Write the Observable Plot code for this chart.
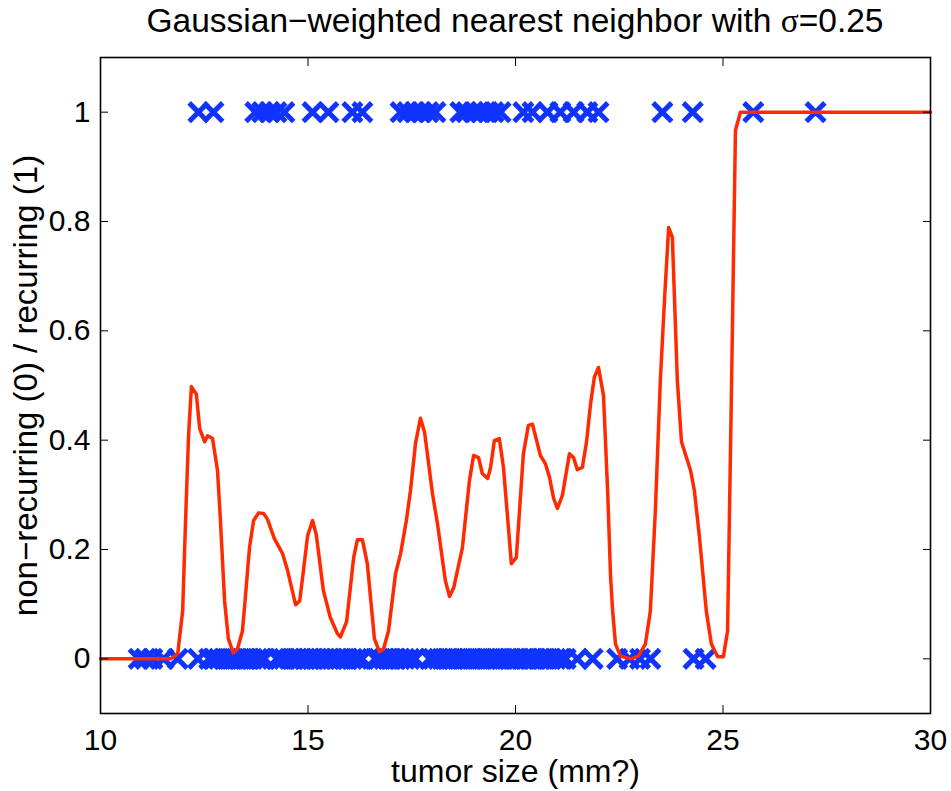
<!DOCTYPE html>
<html>
<head>
<meta charset="utf-8">
<script src="https://cdn.jsdelivr.net/npm/d3@7"></script>
<script src="https://cdn.jsdelivr.net/npm/@observablehq/plot@0.6"></script>
<style>
  body { margin: 0; background: #fff; }
  #wrap { position: relative; width: 951px; height: 791px; font-family: "Liberation Sans", Arial, sans-serif; }
  #title { position: absolute; left: 100px; width: 830px; top: 4px; text-align: center; font-size: 33.5px; line-height: 33px; color: #000; white-space: nowrap; }
  #title .sig { font-family: "Liberation Serif", "DejaVu Serif", serif; }
  #chart { position: absolute; left: 0; top: 0; }
</style>
</head>
<body>
<div id="wrap">
  <div id="chart"></div>
  <div id="title">Gaussian−weighted nearest neighbor with <span class="sig">σ</span>=0.25</div>
</div>
<script>
// Recurring cases (y = 1): tumor sizes
const recurX = [12.36, 12.72, 13.73, 13.90, 14.07, 14.24, 14.43, 15.11, 15.49, 16.07, 16.31,
  17.23, 17.40, 17.57, 17.73, 17.90, 18.07, 18.67, 18.82, 18.99, 19.16, 19.33, 19.47, 19.64,
  20.19, 20.41, 20.77, 21.08, 21.40, 21.73, 22.00, 23.54, 24.27, 25.73, 27.23];

// Non-recurring cases (y = 0): tumor sizes
const nonrecurX = [10.92, 11.08, 11.25, 11.52, 11.86,
  12.35, 12.62, 12.74, 12.85, 12.97, 13.05, 13.16, 13.27, 13.36, 13.48, 13.57, 13.66, 13.78, 13.87, 13.95,
  14.25, 14.33, 14.42, 14.55, 14.63, 14.74, 14.82, 14.93, 15.02, 15.11, 15.22, 15.30, 15.41, 15.50, 15.58,
  15.69, 15.77, 15.88, 15.96, 16.07, 16.18, 16.30, 16.62, 16.71, 16.83, 16.92, 17.01, 17.12, 17.22, 17.33,
  17.45, 17.58, 17.93, 18.02, 18.14, 18.23, 18.35, 18.44, 18.52, 18.64, 18.75, 18.86, 18.95, 19.06, 19.17,
  19.28, 19.36, 19.48, 19.57, 19.66, 19.78, 19.87, 19.98, 20.07, 20.18, 20.27, 20.38, 20.46, 20.58, 20.67,
  20.78, 20.86, 20.97, 21.08, 21.21, 21.49, 21.86, 22.45, 22.75, 23.00, 23.25, 24.29, 24.58];

// Gaussian-weighted nearest neighbor estimate
const curveX = [10.00, 11.69, 11.86, 11.98, 12.05, 12.12, 12.19, 12.31, 12.39, 12.51, 12.58, 12.70, 12.82,
  12.89, 12.99, 13.08, 13.20, 13.30, 13.42, 13.49, 13.59, 13.69, 13.81, 13.93, 14.02, 14.19, 14.39, 14.51,
  14.70, 14.80, 14.89, 14.99, 15.11, 15.20, 15.37, 15.54, 15.71, 15.78, 15.93, 16.10, 16.19, 16.31, 16.43,
  16.60, 16.72, 16.82, 16.94, 17.11, 17.23, 17.37, 17.47, 17.59, 17.71, 17.81, 18.00, 18.12, 18.31, 18.41,
  18.51, 18.72, 18.89, 18.99, 19.11, 19.20, 19.33, 19.40, 19.49, 19.61, 19.71, 19.81, 19.90, 20.02, 20.19,
  20.31, 20.41, 20.60, 20.72, 20.82, 20.92, 21.01, 21.13, 21.23, 21.30, 21.40, 21.49, 21.61, 21.71, 21.81,
  21.90, 22.00, 22.12, 22.22, 22.29, 22.34, 22.41, 22.53, 22.77, 22.96, 23.13, 23.25, 23.37, 23.49, 23.59,
  23.69, 23.78, 23.90, 24.00, 24.22, 24.31, 24.43, 24.60, 24.72, 24.87, 25.01, 25.11, 25.20, 25.30, 25.42, 30.00];
const curveY = [0, 0, 0.009, 0.088, 0.253, 0.405, 0.498, 0.484, 0.421, 0.397, 0.408, 0.403, 0.344,
  0.253, 0.106, 0.037, 0.011, 0.018, 0.051, 0.112, 0.203, 0.253, 0.267, 0.266, 0.256, 0.220, 0.192, 0.161,
  0.099, 0.106, 0.161, 0.225, 0.253, 0.227, 0.125, 0.075, 0.046, 0.040, 0.068, 0.185, 0.218, 0.218, 0.174,
  0.037, 0.013, 0.018, 0.051, 0.156, 0.192, 0.253, 0.308, 0.394, 0.440, 0.414, 0.302, 0.247, 0.143, 0.114,
  0.130, 0.203, 0.326, 0.372, 0.368, 0.339, 0.330, 0.350, 0.399, 0.403, 0.350, 0.258, 0.174, 0.185, 0.375,
  0.427, 0.429, 0.372, 0.357, 0.332, 0.293, 0.275, 0.299, 0.344, 0.375, 0.368, 0.346, 0.350, 0.396, 0.467,
  0.515, 0.533, 0.482, 0.308, 0.152, 0.088, 0.027, 0.005, 0, 0.005, 0.027, 0.088, 0.271, 0.509, 0.656,
  0.789, 0.771, 0.509, 0.397, 0.344, 0.308, 0.225, 0.086, 0.027, 0.004, 0.004, 0.051, 0.473, 0.967, 1.0, 1.0];

const xTicks = [10, 15, 20, 25, 30];
const yTicks = [0, 0.2, 0.4, 0.6, 0.8, 1];
const yTickLabels = ["0", "0.2", "0.4", "0.6", "0.8", "1"];
const xLabel = "tumor size (mm?)";
const yLabel = "non−recurring (0) / recurring (1)";

const points = [
  ...recurX.map(x => ({x, y: 1})),
  ...nonrecurX.map(x => ({x, y: 0}))
];
const curve = curveX.map((x, i) => ({x, y: curveY[i]}));

const blue = "#1133ff";
const red = "#ff2a00";

const chart = Plot.plot({
  width: 951,
  height: 791,
  marginTop: 57,
  marginBottom: 78,
  marginLeft: 100,
  marginRight: 21,
  x: {domain: [10, 30]},
  y: {domain: [-0.1, 1.1]},
  style: {fontFamily: "Liberation Sans, Arial, sans-serif", fontSize: "30px", color: "black", background: "white"},
  marks: [
    Plot.dot(points, {x: "x", y: "y", symbol: "times", r: 8.5, stroke: blue, strokeWidth: 5}),
    Plot.line(curve, {x: "x", y: "y", stroke: red, strokeWidth: 3.5}),
    // inward ticks on all four sides
    Plot.axisX({ticks: xTicks, anchor: "bottom", tickSize: -8, tickFormat: () => "", label: null, stroke: "black"}),
    Plot.axisX({ticks: xTicks, anchor: "top", tickSize: -8, tickFormat: () => "", label: null, stroke: "black"}),
    Plot.axisY({ticks: yTicks, anchor: "left", tickSize: -8, tickFormat: () => "", label: null, stroke: "black"}),
    Plot.axisY({ticks: yTicks, anchor: "right", tickSize: -8, tickFormat: () => "", label: null, stroke: "black"}),
    // tick labels
    Plot.axisX({ticks: xTicks, anchor: "bottom", tickSize: 0, tickPadding: 15, fontSize: 30, label: null, tickFormat: d => String(d)}),
    Plot.axisY({ticks: yTicks, anchor: "left", tickSize: 0, tickPadding: 10, fontSize: 30, label: null, tickFormat: d => yTickLabels[yTicks.indexOf(d)]}),
    // axis titles
    Plot.text([xLabel], {frameAnchor: "bottom", dy: 58, fontSize: 32, lineAnchor: "middle", textAnchor: "middle", fill: "black"}),
    Plot.text([yLabel], {frameAnchor: "left", dx: -74, rotate: -90, fontSize: 33, lineAnchor: "middle", textAnchor: "middle", fill: "black"}),
    Plot.frame({stroke: "black", strokeWidth: 1.6})
  ]
});
document.getElementById("chart").appendChild(chart);
</script>
</body>
</html>
